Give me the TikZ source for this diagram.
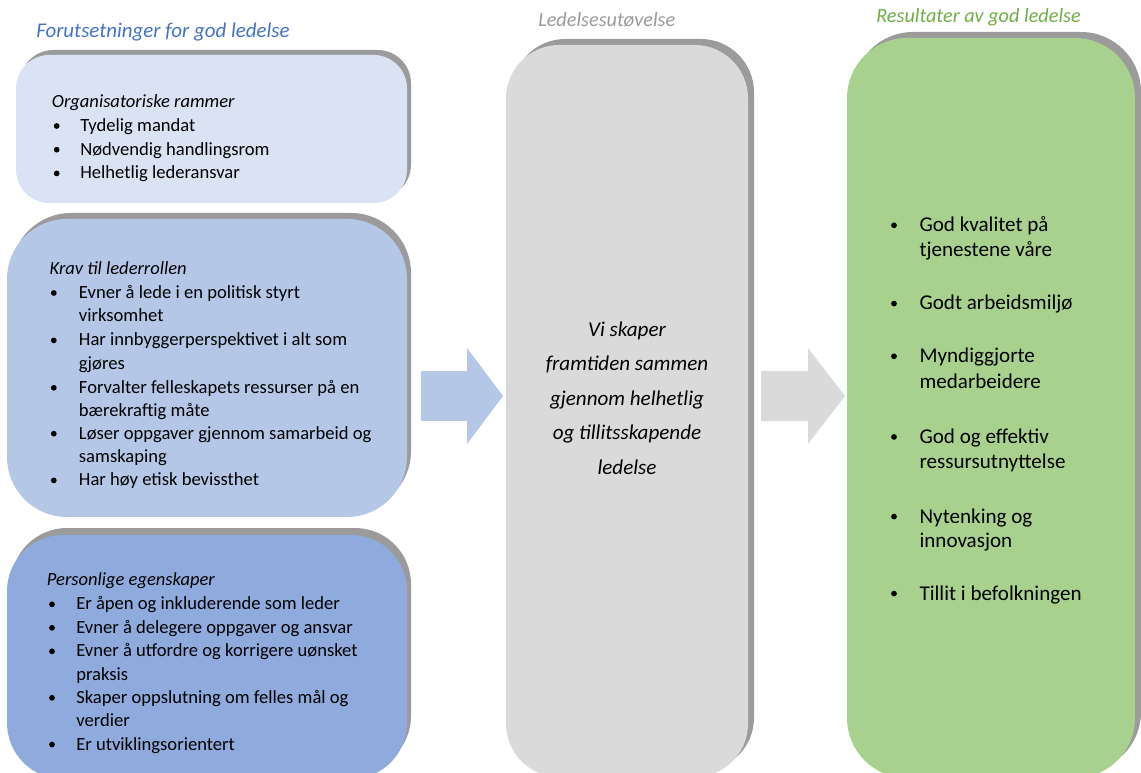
\documentclass[tikz,border=0pt]{standalone}
\usepackage{fontspec}
\setmainfont{Carlito}
\definecolor{hblue}{HTML}{4472C4}
\definecolor{hgray}{HTML}{9A9A9A}
\definecolor{hgreen}{HTML}{70AD47}
\definecolor{boxa}{HTML}{DAE3F3}
\definecolor{boxb}{HTML}{B4C7E7}
\definecolor{boxc}{HTML}{8FAADC}
\definecolor{boxm}{HTML}{DADADA}
\definecolor{boxg}{HTML}{A9D18E}
\definecolor{shad}{HTML}{9B9B9B}
\tikzset{
  txt/.style={anchor=base west, inner sep=0pt, font=\fontsize{13.95}{16}\selectfont},
  ttl/.style={anchor=base west, inner sep=0pt, font=\fontsize{13.9}{16}\selectfont\itshape},
  bul/.style={circle, fill=black, inner sep=0pt, minimum size=4.3pt},
  gtxt/.style={anchor=base west, inner sep=0pt, font=\fontsize{15.8}{18}\selectfont},
  midtxt/.style={anchor=base, inner sep=0pt, font=\fontsize{15.8}{18}\selectfont\itshape},
  hdr/.style={anchor=base west, inner sep=0pt, font=\fontsize{15.2}{18}\selectfont\itshape},
}
\begin{document}
\begin{tikzpicture}[x=0.75pt,y=-0.75pt]
\useasboundingbox (0,0) rectangle (1141,773);
\clip (0,0) rectangle (1141,773);
% headers
\node[hdr, text=hblue, font=\fontsize{15.7}{18}\selectfont\itshape] (h1) at (36,37.7) {Forutsetninger for god ledelse};
\node[hdr, text=hgray] (h2) at (538,27) {Ledelsesutøvelse};
\node[hdr, text=hgreen] (h3) at (876,23) {Resultater av god ledelse};
% box 1
\fill[shad, rounded corners=25] (20,50) rectangle (411,198);
\fill[boxa, rounded corners=25] (16,55) rectangle (407,203);
% box 2
\fill[shad, rounded corners=45] (11,213) rectangle (411,511);
\fill[boxb, rounded corners=45] (7,219) rectangle (407,517);
% box 3
\fill[shad, rounded corners=42] (11,528) rectangle (411,772);
\fill[boxc, rounded corners=42] (7,535) rectangle (407,779);
% middle box
\fill[shad, rounded corners=40] (512,39) rectangle (754,771);
\fill[boxm, rounded corners=40] (506,45) rectangle (748,777);
% green box
\fill[shad, rounded corners=45] (853,32) rectangle (1141,772);
\fill[boxg, rounded corners=45] (847,38) rectangle (1135,778);
% arrows
\fill[boxb] (421,371) -- (467,371) -- (467,348) -- (503,396) -- (467,444) -- (467,421) -- (421,421) -- cycle;
\fill[boxm] (761,371) -- (808,371) -- (808,348) -- (845,396) -- (808,444) -- (808,421) -- (761,421) -- cycle;
% box 1 text
\node[ttl] (a0) at (51.7,107.3) {Organisatoriske rammer};
\node[bul] (ab1) at (56.7,126) {};
\node[txt] (a1) at (80,131.5) {Tydelig mandat};
\node[bul] (ab2) at (56.7,149.7) {};
\node[txt] (a2) at (80,155.2) {Nødvendig handlingsrom};
\node[bul] (ab3) at (56.7,173.4) {};
\node[txt] (a3) at (80,178.9) {Helhetlig lederansvar};
% box 2 text
\node[ttl] (b0) at (49.3,275) {Krav til lederrollen};
\node[bul] (bb1) at (53.8,293) {};
\node[txt] (b1) at (78.7,298.5) {Evner å lede i en politisk styrt};
\node[txt] (b1b) at (78.7,321.8) {virksomhet};
\node[bul] (bb2) at (53.8,340.4) {};
\node[txt] (b2) at (78.7,345.9) {Har innbyggerperspektivet i alt som};
\node[txt] (b2b) at (78.7,369.2) {gjøres};
\node[bul] (bb3) at (53.8,387.8) {};
\node[txt] (b3) at (78.7,393.3) {Forvalter felleskapets ressurser på en};
\node[txt] (b3b) at (78.7,416.6) {bærekraftig måte};
\node[bul] (bb4) at (53.8,433.7) {};
\node[txt] (b4) at (78.7,439.2) {Løser oppgaver gjennom samarbeid og};
\node[txt] (b4b) at (78.7,462.5) {samskaping};
\node[bul] (bb5) at (53.8,480.4) {};
\node[txt] (b5) at (78.7,485.9) {Har høy etisk bevissthet};
% box 3 text
\node[ttl] (c0) at (46.7,585) {Personlige egenskaper};
\node[bul] (cb1) at (52,604.3) {};
\node[txt] (c1) at (76,609.8) {Er åpen og inkluderende som leder};
\node[bul] (cb2) at (52,627.8) {};
\node[txt] (c2) at (76,633.3) {Evner å delegere oppgaver og ansvar};
\node[bul] (cb3) at (52,651.3) {};
\node[txt] (c3) at (76,656.8) {Evner å utfordre og korrigere uønsket};
\node[txt] (c3b) at (76,680.3) {praksis};
\node[bul] (cb4) at (52,697.8) {};
\node[txt] (c4) at (76,703.3) {Skaper oppslutning om felles mål og};
\node[txt] (c4b) at (76,726.8) {verdier};
\node[bul] (cb5) at (52,744.5) {};
\node[txt] (c5) at (76,750) {Er utviklingsorientert};
% middle text
\node[midtxt] (m1) at (627,336) {Vi skaper};
\node[midtxt] (m2) at (627,370.6) {framtiden sammen};
\node[midtxt] (m3) at (627,405.2) {gjennom helhetlig};
\node[midtxt] (m4) at (627,439.8) {og tillitsskapende};
\node[midtxt] (m5) at (627,474.4) {ledelse};
% green text
\node[bul] (gb1) at (894,225.3) {};
\node[gtxt] (g1) at (919.3,231.7) {God kvalitet på};
\node[gtxt] (g1b) at (919.3,256.9) {tjenestene våre};
\node[bul] (gb2) at (894,303.6) {};
\node[gtxt] (g2) at (919.3,310) {Godt arbeidsmiljø};
\node[bul] (gb3) at (894,356.3) {};
\node[gtxt] (g3) at (919.3,362.7) {Myndiggjorte};
\node[gtxt] (g3b) at (919.3,388.2) {medarbeidere};
\node[bul] (gb4) at (894,436.9) {};
\node[gtxt] (g4) at (919.3,443.3) {God og effektiv};
\node[gtxt] (g4b) at (919.3,468.5) {ressursutnyttelse};
\node[bul] (gb5) at (894,516.6) {};
\node[gtxt] (g5) at (919.3,523) {Nytenking og};
\node[gtxt] (g5b) at (919.3,547.9) {innovasjon};
\node[bul] (gb6) at (894,593.6) {};
\node[gtxt] (g6) at (919.3,600) {Tillit i befolkningen};
\end{tikzpicture}
\end{document}
